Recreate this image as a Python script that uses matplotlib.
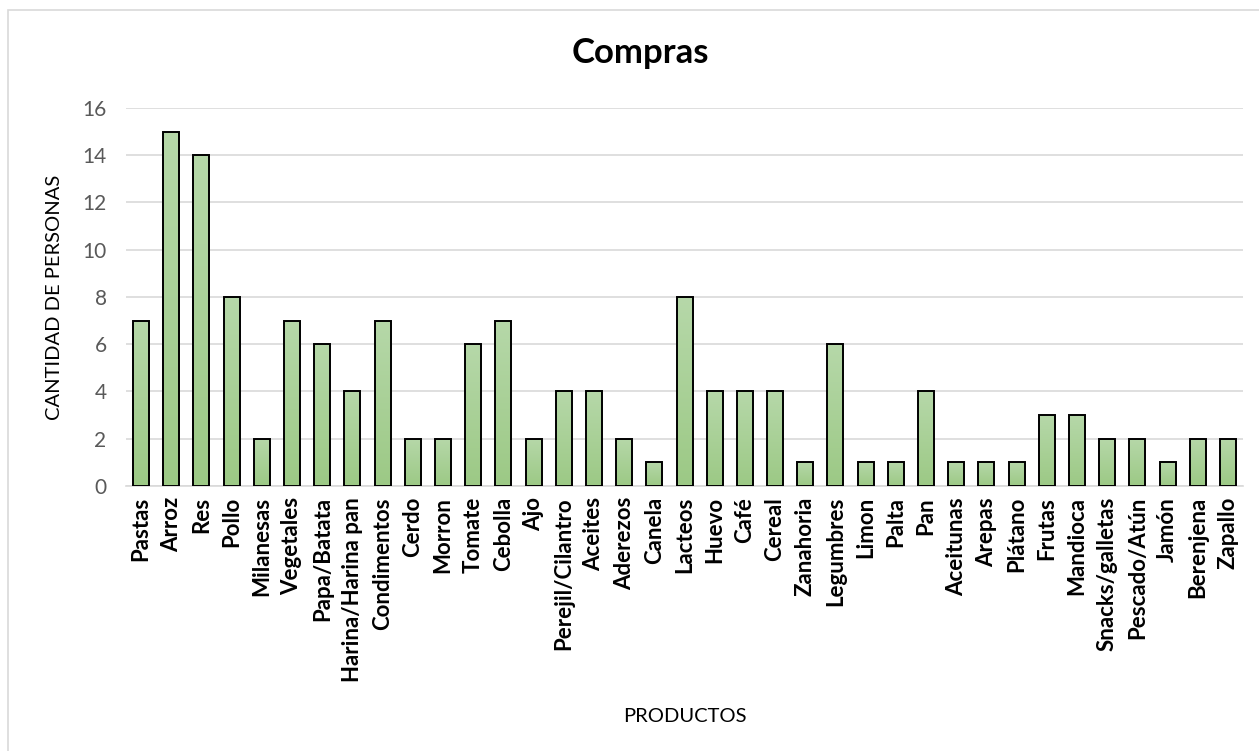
import numpy as np
import matplotlib.pyplot as plt
from matplotlib.patches import Rectangle
from matplotlib.colors import LinearSegmentedColormap

productos = ["Pastas", "Arroz", "Res", "Pollo", "Milanesas", "Vegetales", "Papa/Batata",
             "Harina/Harina pan", "Condimentos", "Cerdo", "Morron", "Tomate", "Cebolla",
             "Ajo", "Perejil/Cilantro", "Aceites", "Aderezos", "Canela", "Lacteos", "Huevo",
             "Café", "Cereal", "Zanahoria", "Legumbres", "Limon", "Palta", "Pan",
             "Aceitunas", "Arepas", "Plátano", "Frutas", "Mandioca", "Snacks/galletas",
             "Pescado/Atún", "Jamón", "Berenjena", "Zapallo"]
personas = [7, 15, 14, 8, 2, 7, 6, 4, 7, 2, 2, 6, 7, 2, 4, 4, 2, 1, 8, 4, 4, 4, 1, 6,
            1, 1, 4, 1, 1, 1, 3, 3, 2, 2, 1, 2, 2]
y_ticks = [0, 2, 4, 6, 8, 10, 12, 14, 16]

plt.rcParams['font.family'] = ['Lato', 'DejaVu Sans']

fig = plt.figure(figsize=(12.59, 7.51), dpi=100)
ax = fig.add_axes([0.1001, 0.3529, 0.8872, 0.5033])

# chart frame (cut off on the right and bottom)
fig.patches.append(Rectangle((8 / 1259, -0.05), 1.1, 1.05 - 10 / 751,
                             transform=fig.transFigure, fill=False,
                             edgecolor="#d9d9d9", linewidth=1.2))

x = np.arange(len(productos))
bars = ax.bar(x, personas, width=0.53, color="none", edgecolor="black", linewidth=1.4, zorder=4)

# light green vertical gradient inside each bar
green = LinearSegmentedColormap.from_list("g", ["#9cc985", "#b6d8a9"])
grad = np.linspace(0, 1, 256).reshape(-1, 1)
for b in bars:
    x0, w, h = b.get_x(), b.get_width(), b.get_height()
    im = ax.imshow(grad, cmap=green, origin="lower", aspect="auto",
                   extent=[x0, x0 + w, 0, h], zorder=3)
    im.set_clip_path(b)

ax.set_xlim(-0.5, len(productos) - 0.5)
ax.set_ylim(0, 16)
ax.set_yticks(y_ticks)
ax.set_xticks(x)
ax.set_xticklabels(productos, rotation=90, fontweight="bold", fontsize=16, color="black")
ax.tick_params(axis="y", labelsize=15, labelcolor="#595959", length=0, pad=14)
ax.tick_params(axis="x", length=0, pad=8)
ax.grid(axis="y", color="#d9d9d9", linewidth=1.2, zorder=0)
for s in ["top", "right", "left"]:
    ax.spines[s].set_visible(False)
ax.spines["bottom"].set_color("#d9d9d9")
ax.spines["bottom"].set_linewidth(1.2)

ax.set_ylabel("CANTIDAD DE PERSONAS", fontsize=14.5, color="black")
ax.yaxis.set_label_coords(-0.056, 0.5)
ax.set_xlabel("PRODUCTOS", fontsize=14.5, color="black")
ax.xaxis.set_label_coords(0.5, -0.587)

fig.text(640 / 1259, 1 - 53 / 751, "Compras", fontsize=25, fontweight="bold",
         ha="center", va="center")

fig.savefig("out.png", dpi=100)
